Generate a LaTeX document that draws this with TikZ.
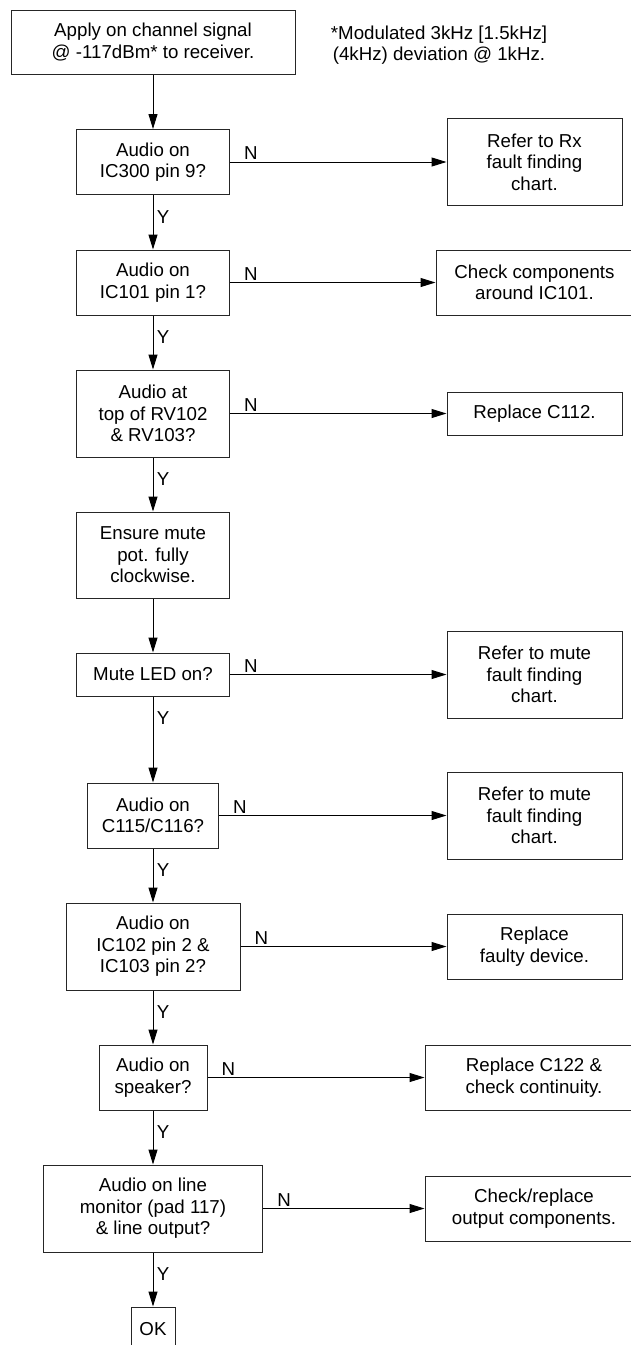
\documentclass[tikz,border=0pt]{standalone}
\usepackage{fontspec}
\setmainfont{Liberation Sans}
\usetikzlibrary{arrows.meta,calc}
\begin{document}
\begin{tikzpicture}[x=1pt,y=-1pt,
  txt/.style={font=\fontsize{18.7}{21.5}\selectfont},
  box/.style={txt,draw=black!85,line width=1pt,rectangle,inner sep=0pt,align=center},
  lab/.style={txt,inner sep=0pt},
  arr/.style={line width=1pt,-{Triangle[length=15pt,width=9pt]}},
  ln/.style={line width=1pt}]
\useasboundingbox (0,0) rectangle (631,1345);
\node[box,minimum width=284pt,minimum height=64pt] (start) at (153,42) {Apply on channel signal\\@ -117dBm* to receiver.};
\node[txt,align=center,inner sep=0pt] (note) at (439,45) {*Modulated 3kHz [1.5kHz]\\(4kHz) deviation @ 1kHz.};
\node[box,minimum width=153pt,minimum height=65pt] (d1) at (153,162) {Audio on\\IC300 pin 9?};
\node[box,minimum width=175pt,minimum height=87pt] (r1) at (534.5,162) {Refer to Rx\\fault finding\\chart.};
\node[box,minimum width=153pt,minimum height=65pt] (d2) at (153,282.5) {Audio on\\IC101 pin 1?};
\node[box,minimum width=197pt,minimum height=65pt] (r2) at (534.5,282.5) {Check components\\around IC101.};
\node[box,minimum width=153pt,minimum height=87pt] (d3) at (153,413.5) {Audio at\\top of RV102\\\& RV103?};
\node[box,minimum width=175pt,minimum height=43pt] (r3) at (534.5,413.5) {Replace C112.};
\node[box,minimum width=153pt,minimum height=86pt] (b4) at (153,555) {Ensure mute\\pot. fully\\clockwise.};
\node[box,minimum width=153pt,minimum height=43pt] (d5) at (153,674.5) {Mute LED on?};
\node[box,minimum width=175pt,minimum height=87pt] (r5) at (534.5,674.5) {Refer to mute\\fault finding\\chart.};
\node[box,minimum width=131pt,minimum height=65pt] (d6) at (153,815.5) {Audio on\\C115/C116?};
\node[box,minimum width=175pt,minimum height=87pt] (r6) at (534.5,815.5) {Refer to mute\\fault finding\\chart.};
\node[box,minimum width=174pt,minimum height=87pt] (d7) at (153,946.5) {Audio on\\IC102 pin 2 \&\\IC103 pin 2?};
\node[box,minimum width=175pt,minimum height=65pt] (r7) at (534.5,946.5) {Replace\\faulty device.};
\node[box,minimum width=108pt,minimum height=65pt] (d8) at (153,1077.5) {Audio on\\speaker?};
\node[box,minimum width=218pt,minimum height=65pt] (r8) at (534,1077.5) {Replace C122 \&\\check continuity.};
\node[box,minimum width=219pt,minimum height=87pt] (d9) at (153,1208.5) {Audio on line\\monitor (pad 117)\\\& line output?};
\node[box,minimum width=218pt,minimum height=65pt] (r9) at (534,1208.5) {Check/replace\\output components.};
\node[box,minimum width=44pt,minimum height=44pt] (ok) at (153,1329) {OK};
% vertical connectors
\draw[arr] (start) -- (d1);
\draw[arr] (d1) -- (d2);
\draw[arr] (d2) -- (d3);
\draw[arr] (d3) -- (b4);
\draw[arr] (b4) -- (d5);
\draw[arr] (d5) -- (d6);
\draw[arr] (d6) -- (d7);
\draw[arr] (d7) -- (d8);
\draw[arr] (d8) -- (d9);
\draw[arr] (d9) -- (ok);
% horizontal connectors
\foreach \d/\r in {d1/r1,d2/r2,d3/r3,d5/r5,d6/r6,d7/r7,d8/r8,d9/r9}{
  \draw[arr] (\d.east) -- (\r.west);
  \node[lab,anchor=south] (n\d) at ($(\d.east)+(21,-2)$) {N};
}
\foreach \d in {d1,d2,d3,d5,d6,d7,d8,d9}{
  \node[lab,anchor=north] (y\d) at ($(\d.south)+(10,15)$) {Y};
}
\end{tikzpicture}
\end{document}
